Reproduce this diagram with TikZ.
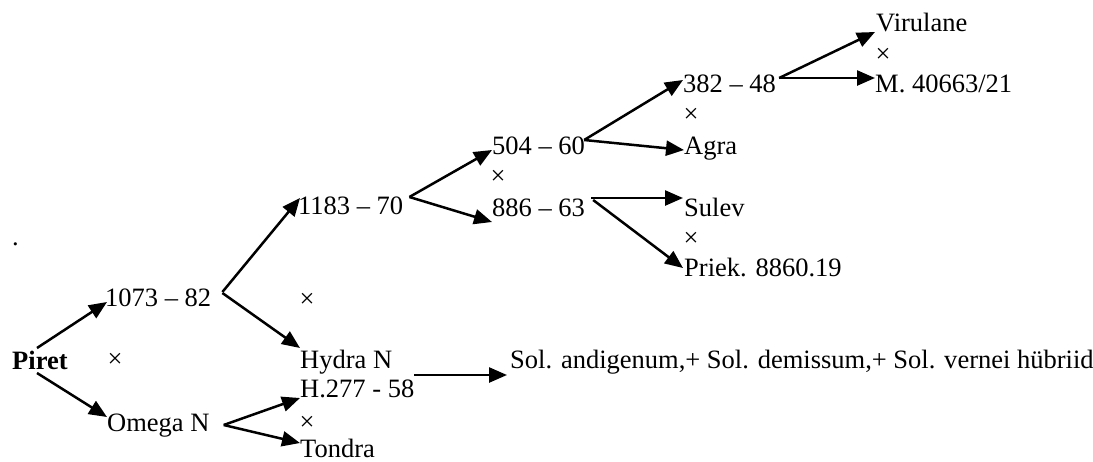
\documentclass[tikz,border=0pt]{standalone}
\usepackage{fontspec}
\setmainfont{Liberation Serif}
\usetikzlibrary{arrows.meta}
\begin{document}
\begin{tikzpicture}[x=1pt,y=-1pt,
  lbl/.style={anchor=base west,inner sep=0pt,font=\fontsize{26.5}{30}\selectfont},
  cross/.style={inner sep=0pt,font=\fontsize{26.5}{30}\selectfont},
  arr/.style={line width=2.5pt,-{Triangle[length=18pt,width=15pt]}}]
\useasboundingbox (0,0) rectangle (1093,461);

% cultivars and breeding lines
\node[lbl] (dot) at (12,245) {.};
\node[lbl,font=\fontsize{26.5}{30}\selectfont\bfseries] (piret) at (12,369) {Piret};
\node[cross] (x0) at (115,360) {×};
\node[lbl] (a1073) at (105,306) {1073 – 82};
\node[lbl] (omega) at (107,431) {Omega N};
\node[lbl] (a1183) at (298,214) {1183 – 70};
\node[cross] (x1) at (307,300) {×};
\node[lbl] (hydra) at (300,368) {Hydra N};
\node[lbl] (h277) at (300,397) {H.277 - 58};
\node[cross] (x2) at (307,423) {×};
\node[lbl] (tondra) at (300,457) {Tondra};
\node[lbl] (a504) at (492,154) {504 – 60};
\node[cross] (x3) at (498,177) {×};
\node[lbl] (a886) at (492,216) {886 – 63};
\node[lbl] (a382) at (683,92) {382 – 48};
\node[cross] (x4) at (691,115) {×};
\node[lbl] (agra) at (684,154) {Agra};
\node[lbl] (sulev) at (684,216) {Sulev};
\node[cross] (x5) at (691,239) {×};
\node[lbl] (priek) at (684,276) {Priek. 8860.19};
\node[lbl] (viru) at (876,31) {Virulane};
\node[cross] (x6) at (883,55) {×};
\node[lbl] (m406) at (875,92) {M. 40663/21};
\node[lbl] (sol) at (510,368) {Sol. andigenum,+ Sol. demissum,+ Sol. vernei hübriid};

% parentage arrows
\draw[arr] ([shift={(25,-21)}]piret.base west) -- ([shift={(2,-4)}]a1073.base west);
\draw[arr] ([shift={(25,4)}]piret.base west) -- ([shift={(0,-14)}]omega.base west);
\draw[arr] ([shift={(11,-14)}]a1073.base east) -- ([shift={(2,-16)}]a1183.base west);
\draw[arr] ([shift={(11,-13)}]a1073.base east) -- ([shift={(0,-20)}]hydra.base west);
\draw[arr] ([shift={(14,-6)}]omega.base east) -- ([shift={(0,1)}]h277.base west);
\draw[arr] ([shift={(14,-6)}]omega.base east) -- ([shift={(0,-14)}]tondra.base west);
\draw[arr] ([shift={(6,-17)}]a1183.base east) -- ([shift={(0,-4)}]a504.base west);
\draw[arr] ([shift={(6,-17)}]a1183.base east) -- ([shift={(0,6)}]a886.base west);
\draw[arr] ([shift={(-1,-14)}]a504.base east) -- ([shift={(0,-12)}]a382.base west);
\draw[arr] ([shift={(-1,-14)}]a504.base east) -- ([shift={(0,-4)}]agra.base west);
\draw[arr] ([shift={(6,-18)}]a886.base east) -- ([shift={(-1,-18)}]sulev.base west);
\draw[arr] ([shift={(8,-16)}]a886.base east) -- ([shift={(-1,-8)}]priek.base west);
\draw[arr] ([shift={(3,-14)}]a382.base east) -- ([shift={(-1,1)}]viru.base west);
\draw[arr] ([shift={(3,-14)}]a382.base east) -- ([shift={(0,-14)}]m406.base west);
\draw[arr] ([shift={(22,7)}]hydra.base east) -- ([shift={(-3,7)}]sol.base west);
\end{tikzpicture}
\end{document}
